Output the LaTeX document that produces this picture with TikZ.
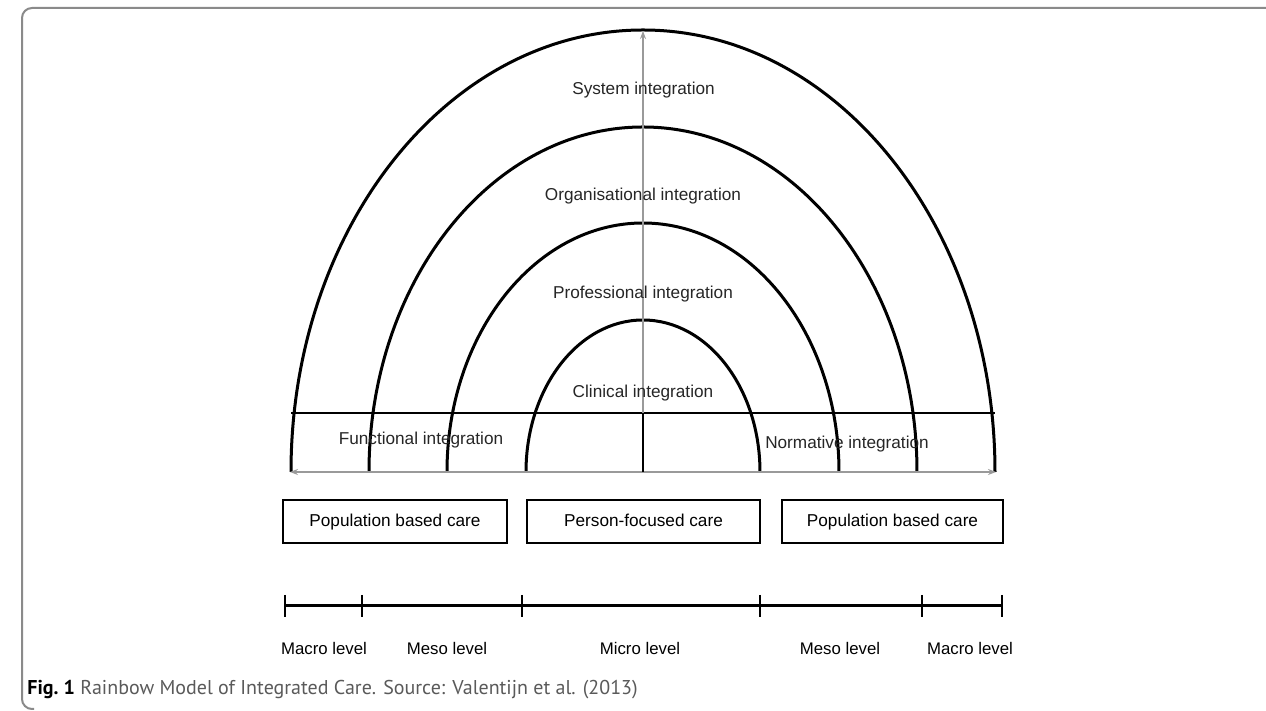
\documentclass[tikz,border=0pt]{standalone}
\usepackage{fontspec}
\setmainfont{Liberation Sans}
\newfontfamily\capfont{PT Sans}
\usetikzlibrary{arrows.meta}
\definecolor{framegray}{HTML}{8A8A8A}
\definecolor{axisgray}{HTML}{9A9A9A}
\definecolor{capgray}{HTML}{5A5A5A}
\tikzset{
  arcline/.style={line width=1.5pt, black},
  carebox/.style={draw, line width=1.1pt, minimum height=21.5pt, inner sep=0pt, text height=6.4pt, text depth=1.8pt, font=\fontsize{8.6pt}{10pt}\selectfont},
  lbl/.style={font=\fontsize{8.6pt}{10pt}\selectfont, inner sep=0pt, text=black!85},
  lvl/.style={font=\fontsize{8.4pt}{10pt}\selectfont, inner sep=0pt, text=black},
  scaleline/.style={line width=1.5pt, black},
  axis/.style={axisgray, line width=0.6pt}
}
\begin{document}
\begin{tikzpicture}[x=0.5pt,y=0.5pt]
\useasboundingbox (0,0) rectangle (1266,711);
\fill[white] (0,0) rectangle (1266,711);
% frame
\draw[framegray, line width=1pt, rounded corners=5pt] (1266,703) -- (22,703) -- (22,2) -- (34,2);
% arcs
\draw[arcline] (291,239) arc[start angle=180, end angle=0, x radius=176pt, y radius=221pt];
\draw[arcline] (369,239) arc[start angle=180, end angle=0, x radius=137pt, y radius=172.5pt];
\draw[arcline] (447,239) arc[start angle=180, end angle=0, x radius=98pt, y radius=124.5pt];
\draw[arcline] (526,239) arc[start angle=180, end angle=0, x radius=58.5pt, y radius=76pt];
% horizontal line and centre line
\coordinate (hl) at (291,298);
\coordinate (hr) at (995,298);
\coordinate (cb) at (643,239);
\coordinate (cm) at (643,298);
\coordinate (ct) at (643,680);
\coordinate (bl) at (290,239);
\coordinate (br) at (996,239);
\draw[arcline, line width=1.3pt] (hl) -- (hr);
\draw[axis, -{Stealth[length=4pt,width=3pt]}] (cb) -- (ct);
\draw[axis, {Stealth[length=4pt,width=3pt]}-{Stealth[length=4pt,width=3pt]}] (bl) -- (br);
\draw[arcline, line width=1.3pt] (cm) -- (cb);
% integration labels
\node[lbl] (sys) at (643.5,621) {System integration};
\node[lbl] (org) at (643,515) {Organisational integration};
\node[lbl] (pro) at (643,417) {Professional integration};
\node[lbl] (cli) at (643,318) {Clinical integration};
\node[lbl] (fun) at (421,271) {Functional integration};
\node[lbl] (nor) at (847,267) {Normative integration};
% care boxes
\node[carebox, minimum width=112pt] (popl) at (395,189.5) {Population based care};
\node[carebox, minimum width=116.5pt] (pers) at (643.5,189.5) {Person-focused care};
\node[carebox, minimum width=110.5pt] (popr) at (892.5,189.5) {Population based care};
% level scale
\coordinate (t1) at (285,105);
\coordinate (t2) at (362,105);
\coordinate (t3) at (522,105);
\coordinate (t4) at (760,105);
\coordinate (t5) at (922,105);
\coordinate (t6) at (1002,105);
\draw[scaleline] (t1) -- (t6);
\foreach \t in {t1,t2,t3,t4,t5,t6}{
  \draw[scaleline, line width=1.3pt] ([yshift=5.5pt]\t.center) -- ([yshift=-5.5pt]\t.center);
}
\node[lvl] (mac1) at (324,62) {Macro level};
\node[lvl] (mes1) at (447,62) {Meso level};
\node[lvl] (mic) at (640,62) {Micro level};
\node[lvl] (mes2) at (840,62) {Meso level};
\node[lvl] (mac2) at (970,62) {Macro level};
% caption
\node[anchor=west, inner sep=0pt, font=\capfont\fontsize{10pt}{12pt}\selectfont] (cap) at (27,21) {\textbf{Fig.~1} \textcolor{capgray}{Rainbow Model of Integrated Care. Source: Valentijn et al. (2013)}};
\end{tikzpicture}
\end{document}
